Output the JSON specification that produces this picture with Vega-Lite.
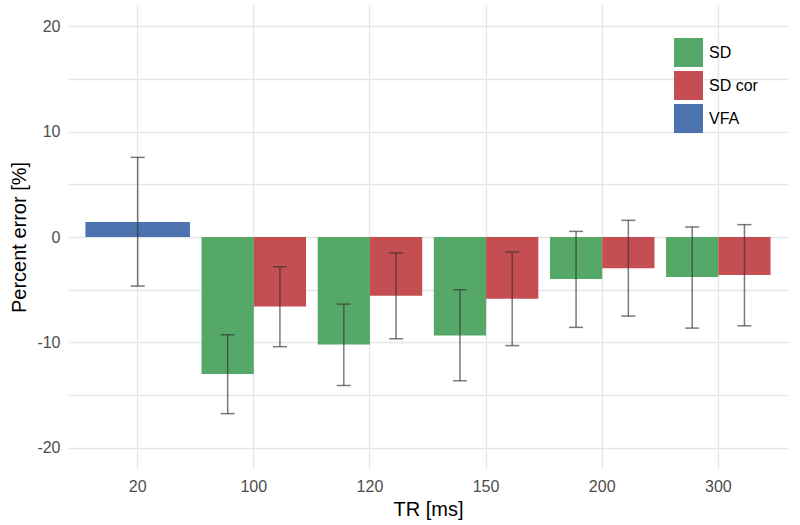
{
  "$schema": "https://vega.github.io/schema/vega-lite/v6.json",
  "width": 720,
  "height": 464,
  "autosize": {"type": "none"},
  "padding": {"left": 68, "top": 5, "right": 12, "bottom": 56},
  "background": "white",
  "config": {
    "font": "Liberation Sans",
    "view": {"stroke": null},
    "axis": {"domain": false, "ticks": false, "gridColor": "#e6e6e6", "gridWidth": 1.3, "labelColor": "#4d4d4d", "labelFontSize": 16, "titleFontSize": 20, "titleFontWeight": "normal", "titleColor": "#000000", "labelFont": "Liberation Sans", "titleFont": "Liberation Sans"}
  },
  "data": {
    "values": [
      {"TR": "20", "method": "VFA", "err": 1.42, "lo": -4.65, "hi": 7.55},
      {"TR": "100", "method": "SD", "err": -13.0, "lo": -16.75, "hi": -9.27},
      {"TR": "100", "method": "SD cor", "err": -6.58, "lo": -10.4, "hi": -2.82},
      {"TR": "120", "method": "SD", "err": -10.2, "lo": -14.08, "hi": -6.36},
      {"TR": "120", "method": "SD cor", "err": -5.57, "lo": -9.65, "hi": -1.52},
      {"TR": "150", "method": "SD", "err": -9.33, "lo": -13.63, "hi": -5.0},
      {"TR": "150", "method": "SD cor", "err": -5.85, "lo": -10.3, "hi": -1.42},
      {"TR": "200", "method": "SD", "err": -3.99, "lo": -8.57, "hi": 0.53},
      {"TR": "200", "method": "SD cor", "err": -2.97, "lo": -7.5, "hi": 1.58},
      {"TR": "300", "method": "SD", "err": -3.8, "lo": -8.64, "hi": 0.95},
      {"TR": "300", "method": "SD cor", "err": -3.61, "lo": -8.42, "hi": 1.17}
    ]
  },
  "encoding": {
    "x": {
      "field": "TR", "type": "nominal", "sort": ["20", "100", "120", "150", "200", "300"],
      "scale": {"paddingInner": 0.1, "paddingOuter": 0.15},
      "axis": {"title": "TR [ms]", "labelAngle": 0, "labelPadding": 9, "titlePadding": 5, "bandPosition": 0.5, "grid": true}
    }
  },
  "layer": [
    {
      "mark": {"type": "bar"},
      "transform": [{"filter": "datum.method === 'VFA'"}],
      "encoding": {
        "y": {"field": "err", "type": "quantitative", "scale": {"domain": [-22, 22], "nice": false},
          "axis": {"title": "Percent error [%]", "values": [-20, -15, -10, -5, 0, 5, 10, 15, 20], "labelExpr": "datum.value % 10 === 0 ? toString(datum.value) : ''", "labelPadding": 8, "titlePadding": 7}},
        "y2": {"datum": 0},
        "color": {"field": "method", "type": "nominal", "scale": {"domain": ["SD", "SD cor", "VFA"], "range": ["#55A868", "#C44E52", "#4C72B0"]},
          "legend": {"title": null, "orient": "none", "legendX": 606, "legendY": 33, "symbolType": "square", "symbolSize": 841, "symbolStrokeWidth": 0, "symbolOpacity": 1, "labelFontSize": 16, "labelColor": "#000000", "labelOffset": 6, "rowPadding": 4, "padding": 0}}
      }
    },
    {
      "mark": {"type": "bar"},
      "transform": [{"filter": "datum.method !== 'VFA'"}],
      "encoding": {
        "xOffset": {"field": "method", "type": "nominal", "sort": ["SD", "SD cor"], "scale": {"paddingInner": 0, "paddingOuter": 0}},
        "y": {"field": "err", "type": "quantitative"},
        "y2": {"datum": 0},
        "color": {"field": "method", "type": "nominal"}
      }
    },
    {
      "mark": {"type": "rule", "color": "#5a5a5a", "strokeWidth": 1.8},
      "encoding": {"y": {"datum": 0}}
    },
    {
      "mark": {"type": "rule", "color": "#333333", "opacity": 0.65, "strokeWidth": 1.5},
      "transform": [{"filter": "datum.method === 'VFA'"}],
      "encoding": {
        "y": {"field": "lo", "type": "quantitative"},
        "y2": {"field": "hi"}
      }
    },
    {
      "mark": {"type": "rule", "color": "#333333", "opacity": 0.65, "strokeWidth": 1.5},
      "transform": [{"filter": "datum.method !== 'VFA'"}],
      "encoding": {
        "xOffset": {"field": "method", "type": "nominal", "sort": ["SD", "SD cor"]},
        "y": {"field": "lo", "type": "quantitative"},
        "y2": {"field": "hi"}
      }
    },
    {
      "mark": {"type": "tick", "color": "#333333", "opacity": 0.65, "thickness": 1.5, "size": 14},
      "transform": [{"filter": "datum.method === 'VFA'"}, {"fold": ["lo", "hi"], "as": ["end", "val"]}],
      "encoding": {
        "y": {"field": "val", "type": "quantitative"}
      }
    },
    {
      "mark": {"type": "tick", "color": "#333333", "opacity": 0.65, "thickness": 1.5, "size": 14},
      "transform": [{"filter": "datum.method !== 'VFA'"}, {"fold": ["lo", "hi"], "as": ["end", "val"]}],
      "encoding": {
        "xOffset": {"field": "method", "type": "nominal", "sort": ["SD", "SD cor"]},
        "y": {"field": "val", "type": "quantitative"}
      }
    }
  ]
}
